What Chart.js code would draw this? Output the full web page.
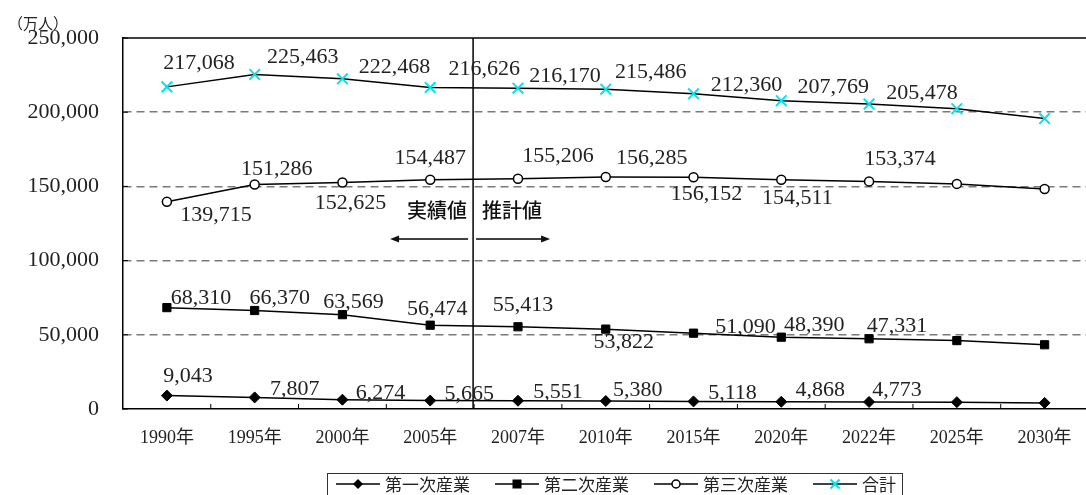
<!DOCTYPE html>
<html>
<head>
<meta charset="utf-8">
<script src="https://cdn.jsdelivr.net/npm/chart.js@4.4.0/dist/chart.umd.min.js"></script>
<style>
  html, body { margin: 0; padding: 0; overflow: hidden; background: #fff; }
  #wrap { position: relative; width: 1086px; height: 495px; overflow: hidden; }
  #c { position: absolute; left: 0; top: 0; }
  #unit { position: absolute; left: 8px; top: 12px; font: 15px "Noto Sans CJK JP"; color: #222; }
  #legend {
    position: absolute; left: 327px; top: 473px; width: 576px; height: 30px;
    border: 1px solid #333; box-sizing: border-box;
    display: flex; align-items: flex-start; justify-content: space-between; padding: 0 6px 0 8px;
    font: 17px "Noto Sans CJK JP"; color: #222; line-height: 20px;
  }
  #legend .item { display: flex; align-items: center; }
  #legend svg { margin-right: 5px; }
</style>
</head>
<body>
<div id="wrap">
  <canvas id="c" width="1098" height="495"></canvas>
  <div id="unit">（万人）</div>
  <div id="legend"></div>
</div>
<script>
// years on the x axis
var categories = ["1990年", "1995年", "2000年", "2005年", "2007年", "2010年", "2015年", "2020年", "2022年", "2025年", "2030年"];
var seriesNames = ["第一次産業", "第二次産業", "第三次産業", "合計"];

// 万人
var primary   = [9043, 7807, 6274, 5665, 5551, 5380, 5118, 4868, 4773, 4600, 4100];
var secondary = [68310, 66370, 63569, 56474, 55413, 53822, 51090, 48390, 47331, 46100, 43300];
var tertiary  = [139715, 151286, 152625, 154487, 155206, 156285, 156152, 154511, 153374, 151700, 148300];
var total     = [217068, 225463, 222468, 216626, 216170, 215486, 212360, 207769, 205478, 202400, 195700];

var yTicks = [0, 50000, 100000, 150000, 200000, 250000];

// where each value label sits relative to its point (null = no label)
var offPrimary   = [[21,-19],[40,-8],[38,-6],[39,-6],[40,-9],[32,-11],[39,-8],[39,-12],[28,-12],null,null];
var offSecondary = [[34,-9],[25,-12],[11,-12],[7,-16],[5,-22],[18,13],[52,-6],[33,-12],[28,-13],null,null];
var offTertiary  = [[49,14],[22,-15],[8,21],[0,-22],[40,-22],[46,-19],[13,17],[16,19],[31,-22],null,null];
var offTotal     = [[32,-24],[48,-17],[52,-12],[54,-18],[47,-12],[45,-17],[53,-9],[52,-13],[53,-11],null,null];
var labelOffsets = [offPrimary, offSecondary, offTertiary, offTotal];

var serif = '"Liberation Serif", "Noto Sans CJK JP", serif';
var cyan = "#00e4f0";

function fmt(v) { return v.toLocaleString("en-US"); }

var extras = {
  id: "extras",
  afterDraw: function (chart) {
    var ctx = chart.ctx, a = chart.chartArea;
    var x = chart.scales.x, y = chart.scales.y;
    ctx.save();
    ctx.strokeStyle = "#000";
    ctx.lineWidth = 1.5;
    // top frame
    ctx.beginPath();
    ctx.moveTo(a.left, a.top); ctx.lineTo(a.right, a.top);
    ctx.stroke();
    // inward ticks between categories
    ctx.lineWidth = 1;
    for (var i = 1; i < categories.length; i++) {
      var bx = (x.getPixelForValue(i - 1) + x.getPixelForValue(i)) / 2;
      ctx.beginPath();
      ctx.moveTo(bx, a.bottom); ctx.lineTo(bx, a.bottom - 5);
      ctx.stroke();
    }
    yTicks.forEach(function (t) {
      var ty = y.getPixelForValue(t);
      ctx.beginPath();
      ctx.moveTo(a.left, ty); ctx.lineTo(a.left + 5, ty);
      ctx.stroke();
    });
    // actual / projected divider
    var dx = (x.getPixelForValue(3) + x.getPixelForValue(4)) / 2 - 1;
    ctx.lineWidth = 1.5;
    ctx.beginPath();
    ctx.moveTo(dx, a.top); ctx.lineTo(dx, a.bottom);
    ctx.stroke();

    ctx.fillStyle = "#111";
    ctx.font = '500 20px "Noto Sans CJK JP"';
    ctx.textBaseline = "middle";
    var ty2 = y.getPixelForValue(134000);
    ctx.textAlign = "right";
    ctx.fillText("実績値", dx - 6, ty2);
    ctx.textAlign = "left";
    ctx.fillText("推計値", dx + 9, ty2);

    var ay = y.getPixelForValue(114600);
    function arrow(x1, x2) {
      var dir = x2 > x1 ? 1 : -1;
      ctx.lineWidth = 1.5;
      ctx.beginPath();
      ctx.moveTo(x1, ay); ctx.lineTo(x2 - dir * 6, ay);
      ctx.stroke();
      ctx.beginPath();
      ctx.moveTo(x2, ay);
      ctx.lineTo(x2 - dir * 9, ay - 3.5);
      ctx.lineTo(x2 - dir * 9, ay + 3.5);
      ctx.closePath();
      ctx.fill();
    }
    arrow(dx - 5, dx - 83);
    arrow(dx + 3, dx + 77);

    // value labels
    ctx.font = "22px " + serif;
    ctx.fillStyle = "#222";
    ctx.textAlign = "center";
    ctx.textBaseline = "middle";
    chart.data.datasets.forEach(function (ds, di) {
      var meta = chart.getDatasetMeta(di);
      meta.data.forEach(function (pt, j) {
        var o = labelOffsets[di][j];
        if (!o) return;
        ctx.fillText(fmt(ds.data[j]), pt.x + o[0], pt.y + o[1]);
      });
    });
    ctx.restore();
  }
};

var chart = new Chart(document.getElementById("c"), {
  type: "line",
  data: {
    labels: categories,
    datasets: [
      { label: seriesNames[0], data: primary, borderColor: "#000", borderWidth: 1.5,
        pointStyle: "rectRot", pointRadius: 5.5, pointBackgroundColor: "#000", pointBorderColor: "#000", pointBorderWidth: 1 },
      { label: seriesNames[1], data: secondary, borderColor: "#000", borderWidth: 1.5,
        pointStyle: "rect", pointRadius: 5.8, pointBackgroundColor: "#000", pointBorderColor: "#000", pointBorderWidth: 1 },
      { label: seriesNames[2], data: tertiary, borderColor: "#000", borderWidth: 1.5,
        pointStyle: "circle", pointRadius: 4.5, pointBackgroundColor: "#fff", pointBorderColor: "#000", pointBorderWidth: 1.5 },
      { label: seriesNames[3], data: total, borderColor: "#000", borderWidth: 1.5,
        pointStyle: "crossRot", pointRadius: 7.5, pointBorderColor: cyan, pointBorderWidth: 2 }
    ]
  },
  options: {
    responsive: false,
    animation: false,
    layout: { padding: { left: 0, right: 0, top: 38, bottom: 0 } },
    plugins: { legend: { display: false }, tooltip: { enabled: false } },
    elements: { line: { tension: 0 } },
    scales: {
      x: {
        offset: true,
        grid: { display: false },
        border: { display: true, color: "#000", width: 1.5 },
        ticks: { font: { family: serif, size: 18 }, color: "#222", padding: 10, maxRotation: 0, autoSkip: false },
        afterFit: function (s) { s.height = 86; }
      },
      y: {
        min: 0, max: 250000,
        afterBuildTicks: function (s) { s.ticks = yTicks.map(function (v) { return { value: v }; }); },
        grid: {
          drawTicks: false, lineWidth: 1.5,
          color: function (c) { return (c.tick && (c.tick.value === 0 || c.tick.value === 250000)) ? "rgba(0,0,0,0)" : "#7a7a7a"; }
        },
        border: { display: true, color: "#000", width: 1.5, dash: [8, 5] },
        ticks: { callback: function (v) { return fmt(v); }, font: { family: serif, size: 22 }, color: "#222", padding: 24 },
        afterFit: function (s) { s.width = 123; }
      }
    }
  },
  plugins: [extras]
});

// legend: line + marker symbol, then name
var symbols = [
  '<polygon points="22,1 27,6 22,11 17,6" fill="#000"/>',
  '<rect x="17.5" y="1.5" width="9" height="9" fill="#000"/>',
  '<circle cx="22" cy="6" r="4" fill="#fff" stroke="#000" stroke-width="1.5"/>',
  '<path d="M17.5 1.5 L26.5 10.5 M26.5 1.5 L17.5 10.5" stroke="' + cyan + '" stroke-width="2"/>'
];
var lg = document.getElementById("legend");
seriesNames.forEach(function (n, i) {
  var it = document.createElement("div");
  it.className = "item";
  it.innerHTML = '<svg width="44" height="12"><line x1="0" y1="6" x2="44" y2="6" stroke="#000" stroke-width="1.5"/>' +
    symbols[i] + '</svg><span>' + n + '</span>';
  lg.appendChild(it);
});
</script>
</body>
</html>
